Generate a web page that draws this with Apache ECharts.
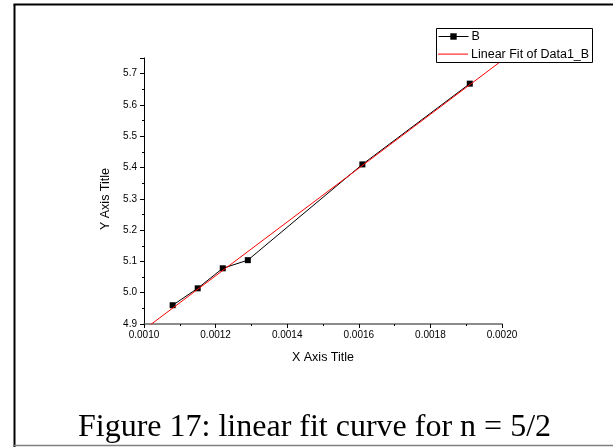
<!DOCTYPE html>
<html>
<head>
<meta charset="utf-8">
<script src="https://cdn.jsdelivr.net/npm/echarts@6/dist/echarts.min.js"></script>
<style>
  html, body { margin: 0; padding: 0; background: #fff; }
  #chart { width: 613px; height: 447px; }
</style>
</head>
<body>
<div id="chart"></div>
<script>
// measured points (series B)
const xB = [0.00108, 0.00115, 0.00122, 0.00129, 0.00161, 0.00191];
const yB = [4.960, 5.014, 5.078, 5.104, 5.410, 5.668];

// linear fit end points
const xFit = [0.0010, 0.0020];
const yFit = [4.882, 5.742];

const yTicks = [4.9, 5.0, 5.1, 5.2, 5.3, 5.4, 5.5, 5.6, 5.7];
const caption = 'Figure 17: linear fit curve for n = 5/2';

const chart = echarts.init(document.getElementById('chart'));

const font = 'Arial, "Liberation Sans", sans-serif';
const legendText = { fontFamily: font, fontSize: 12.5, color: '#000', padding: [0, 0, 0, -2] };

const option = {
  animation: false,
  backgroundColor: '#fff',
  title: {
    text: caption,
    left: 73,
    top: 407,
    textStyle: {
      fontFamily: '"Liberation Serif", "Times New Roman", serif',
      fontSize: 32,
      fontWeight: 'normal',
      color: '#000'
    }
  },
  // one legend per row so the fit row can use a thin bar icon
  legend: [
    {
      orient: 'vertical',
      left: 436,
      top: 28,
      padding: [2, 4, 0, 2],
      itemWidth: 30,
      itemHeight: 8,
      z: 10,
      lineStyle: { width: 1 },
      textStyle: legendText,
      data: ['B']
    },
    {
      orient: 'vertical',
      left: 436,
      top: 45.6,
      padding: [2, 4, 0, 2],
      itemWidth: 30,
      itemHeight: 1,
      icon: 'rect',
      z: 10,
      itemStyle: { color: '#ff0000' },
      textStyle: legendText,
      data: ['Linear Fit of Data1_B']
    }
  ],
  grid: { left: 144, right: 111, top: 58, bottom: 123 },
  xAxis: {
    type: 'value',
    min: 0.001,
    max: 0.002,
    interval: 0.0002,
    name: 'X Axis Title',
    nameLocation: 'middle',
    nameGap: 27,
    nameTextStyle: { fontFamily: font, fontSize: 12.5, color: '#000' },
    axisLine: { lineStyle: { color: '#666', width: 1.5 } },
    axisTick: { length: 4, lineStyle: { color: '#000' } },
    minorTick: { show: true, splitNumber: 2, length: 2, lineStyle: { color: '#000' } },
    axisLabel: {
      fontFamily: font, fontSize: 10, color: '#000', margin: 6,
      formatter: v => v.toFixed(4)
    },
    splitLine: { show: false }
  },
  yAxis: {
    type: 'value',
    min: 4.9,
    max: 5.75,
    interval: 0.1,
    name: 'Y Axis Title',
    nameLocation: 'middle',
    nameGap: 21,
    nameTextStyle: { fontFamily: font, fontSize: 12.5, color: '#000', padding: [0, 16, 0, 0] },
    axisLine: { lineStyle: { color: '#000', width: 1 } },
    axisTick: { length: 4, lineStyle: { color: '#000' } },
    minorTick: { show: true, splitNumber: 2, length: 2, lineStyle: { color: '#000' } },
    axisLabel: {
      fontFamily: font, fontSize: 10, color: '#000', margin: 7,
      showMaxLabel: false,
      formatter: v => yTicks.some(t => Math.abs(t - v) < 1e-9) ? v.toFixed(1) : ''
    },
    splitLine: { show: false }
  },
  series: [
    {
      name: 'B',
      type: 'line',
      data: xB.map((x, i) => [x, yB[i]]),
      symbol: 'rect',
      symbolSize: 6,
      lineStyle: { color: '#000', width: 1 },
      itemStyle: { color: '#000' },
      z: 3
    },
    {
      name: 'Linear Fit of Data1_B',
      type: 'line',
      data: xFit.map((x, i) => [x, yFit[i]]),
      symbol: 'none',
      clip: true,
      lineStyle: { color: '#ff0000', width: 1 },
      itemStyle: { color: '#ff0000' },
      z: 4
    }
  ],
  graphic: [
    // legend frame, above the fit line
    { type: 'rect', z: 5, shape: { x: 436.5, y: 28.5, width: 156, height: 34 }, style: { fill: '#fff', stroke: '#000', lineWidth: 1 } },
    { type: 'line', shape: { x1: 14.5, y1: 4.5, x2: 14.5, y2: 447 }, style: { stroke: '#000', lineWidth: 2 } },
    { type: 'line', shape: { x1: 13.5, y1: 4.5, x2: 613, y2: 4.5 }, style: { stroke: '#000', lineWidth: 2 } },
    { type: 'line', shape: { x1: 13.5, y1: 445.5, x2: 613, y2: 445.5 }, style: { stroke: '#808080', lineWidth: 1.5 } }
  ]
};

chart.setOption(option);
</script>
</body>
</html>
